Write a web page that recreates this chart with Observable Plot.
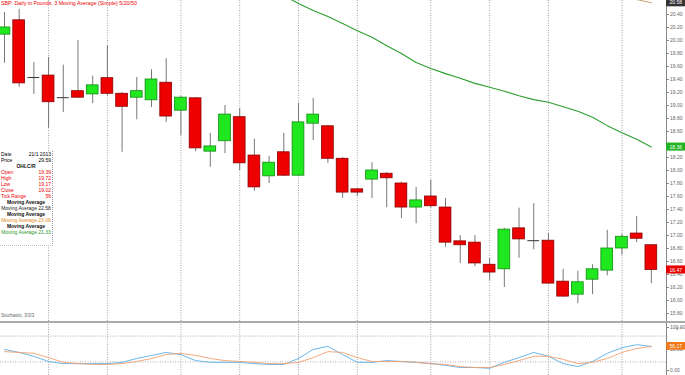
<!DOCTYPE html>
<html><head><meta charset="utf-8">
<script src="https://cdn.jsdelivr.net/npm/d3@7"></script>
<script src="https://cdn.jsdelivr.net/npm/@observablehq/plot@0.6"></script>
<style>
body{margin:0;background:#fff;font-family:"Liberation Sans",Arial,sans-serif;}
#wrap{position:relative;width:685px;height:375px;overflow:hidden;background:#fff;}
#main svg,#stoch svg{display:block;}
#stoch{border-top:2px solid #aaa;}
#title{position:absolute;left:1px;top:0px;font-size:5.3px;line-height:6px;color:#e00;white-space:nowrap;}
#cap{position:absolute;left:1px;top:313px;font-size:4.5px;color:#666;white-space:nowrap;}
#info{position:absolute;left:0;top:151px;width:52px;height:94px;background:rgba(255,255,255,0.92);border-right:1px dotted #999;border-bottom:1px dotted #bbb;font-size:5px;line-height:6px;}
#info .row{display:flex;justify-content:space-between;padding:0 1px;}
#info .hd{text-align:center;font-weight:bold;color:#111;}
#info .c{text-align:center;}
.red{color:#e00;}
</style></head><body>
<div id="wrap">
  <div id="main"></div>
  <div id="stoch"></div>
  <div id="title">SBP: Daily in Pounds, 3 Moving Average (Simple) 5/20/50</div>
  <div id="cap">Stochastic, 3/3/3</div>
  <div id="info"></div>
</div>
<script>
// ---- data ----
const open  = [20.09,20.31,19.43,19.46,19.12,19.22,19.17,19.42,19.18,19.12,19.08,19.35,18.92,19.11,18.29,18.45,18.82,18.23,17.91,18.28,17.92,18.72,18.68,18.18,17.71,17.86,17.95,17.80,17.43,17.60,17.43,16.91,16.89,16.55,16.48,17.11,16.92,16.92,16.29,16.09,16.32,16.46,16.80,17.03,16.85];
const high  = [20.43,20.48,19.66,19.74,19.62,20.00,19.45,19.92,19.20,19.43,19.55,19.72,19.14,19.12,18.57,19.00,18.95,18.48,18.22,18.57,19.03,19.11,18.69,18.20,17.72,18.12,17.97,17.82,17.74,17.85,17.57,17.00,17.00,16.65,17.11,17.42,17.49,17.03,16.48,16.45,16.55,17.08,17.02,17.29,16.85];
const low   = [19.65,19.28,19.17,18.65,18.89,19.11,19.03,19.15,18.28,18.78,18.97,18.74,18.54,18.29,18.05,18.26,18.00,17.68,17.80,17.91,17.91,18.46,18.11,17.57,17.60,17.57,17.43,17.26,17.18,17.42,16.82,16.57,16.52,16.31,16.20,16.65,16.78,16.25,16.05,15.95,16.09,16.38,16.70,16.89,16.26];
const close = [20.20,19.34,19.43,19.05,19.12,19.12,19.31,19.18,18.98,19.22,19.40,18.83,19.12,18.34,18.37,18.86,18.11,17.74,18.12,17.92,18.74,18.86,18.18,17.66,17.66,18.00,17.88,17.43,17.54,17.45,16.89,16.85,16.57,16.43,17.09,16.94,16.92,16.26,16.06,16.28,16.48,16.80,16.98,16.95,16.47];
const greenMAStart = 19;
const greenMA = [20.69,20.57,20.46,20.37,20.26,20.15,20.05,19.92,19.80,19.66,19.57,19.49,19.42,19.34,19.28,19.22,19.15,19.09,19.05,18.98,18.91,18.82,18.69,18.58,18.48,18.36];
const orangeMAStart = 42;
const orangeMA = [20.71,20.63,20.58];
const stochK = [49,42,33,21,16,16,16,16,19,28,35,42,37,23,19,19,19,16,14,14,28,49,56,37,19,19,23,21,19,16,12,7,7,5,19,30,42,33,16,9,21,40,53,60,56];
const stochD = [44,42,40,30,19,16,14,14,16,21,28,37,40,35,28,23,21,19,16,16,19,30,44,42,30,21,21,21,19,16,14,9,7,7,14,23,33,33,26,16,19,28,42,51,56.17];
const weekStarts = [3,7,12,16,20,24,29,33,37,42];
const priceTicks = [15.8,16.0,16.2,16.4,16.6,16.8,17.0,17.2,17.4,17.6,17.8,18.0,18.2,18.6,18.8,19.0,19.2,19.4,19.6,19.8,20.0,20.2,20.4];
const stochTicks = [0,50,100];
const stochLevels = [20,80];
const infoRows = [["Date","21/1 2013"],["Price","29.59"]];
const ohlcRows = [["Open","19.39"],["High","19.72"],["Low","19.17"],["Close","19.02"],["Tick Range","56"]];
const maLegend = [["Moving Average 22.58","#222"],["Moving Average 23.09","#e08a20"],["Moving Average 21.33","#2a9a2a"]];

// ---- build ----
const candles = open.map((o,i)=>({i,o,h:high[i],l:low[i],c:close[i]}));
const bodies = candles.filter(d=>Math.abs(d.o-d.c)>=0.005);
const dojis = candles.filter(d=>Math.abs(d.o-d.c)<0.005);
const gMA = greenMA.map((v,k)=>({i:greenMAStart+k,v}));
const oMA = orangeMA.map((v,k)=>({i:orangeMAStart+k,v}));
const kLine = stochK.map((v,i)=>({i,v}));
const dLine = stochD.map((v,i)=>({i,v}));
const xDom = [-0.27, 45.03];
const last = close.length-1;
const priceLabels = [
  {v: orangeMA[orangeMA.length-1], fill:"#333", text: orangeMA[orangeMA.length-1].toFixed(2)},
  {v: greenMA[greenMA.length-1], fill:"#22b422", text: greenMA[greenMA.length-1].toFixed(2)},
  {v: close[last], fill:"#e80000", text: close[last].toFixed(2)}
];
const halfBox = 0.062;

const main = Plot.plot({
  width:685, height:321, marginLeft:0, marginRight:19, marginTop:0, marginBottom:0,
  style:{background:"#fff", fontFamily:"Liberation Sans, Arial, sans-serif", overflow:"visible"},
  x:{domain:xDom, axis:null},
  y:{domain:[15.677,20.615], axis:null},
  marks:[
    Plot.ruleX(weekStarts,{stroke:"#8a8a8a", strokeDasharray:"1,1.5", strokeWidth:0.8}),
    Plot.ruleX(candles,{x:"i", y1:"l", y2:"h", stroke:"#777", strokeWidth:1}),
    Plot.rect(bodies,{x1:d=>d.i-0.4, x2:d=>d.i+0.4, y1:"o", y2:"c",
      fill:d=>d.c>d.o?"#1fe81f":"#ee0000", stroke:d=>d.c>d.o?"#128a12":"#8a0000", strokeWidth:0.8}),
    Plot.ruleY(dojis,{y:"o", x1:d=>d.i-0.4, x2:d=>d.i+0.4, stroke:"#333", strokeWidth:1}),
    Plot.line(gMA,{x:"i", y:"v", stroke:"#2e9e2e", strokeWidth:1.1, clip:true}),
    Plot.line(oMA,{x:"i", y:"v", stroke:"#c8a070", strokeWidth:1, clip:true}),
    Plot.ruleX([xDom[1]],{stroke:"#888"}),
    Plot.axisY(priceTicks,{anchor:"right", tickSize:2, tickPadding:1.5, fontSize:5, stroke:"#888", fill:"#666", tickFormat:d=>d.toFixed(2)}),
    Plot.rect(priceLabels,{x1:xDom[1], x2:xDom[1]+1.4, y1:d=>d.v-halfBox, y2:d=>d.v+halfBox, fill:"fill"}),
    Plot.text(priceLabels,{x:xDom[1], y:"v", text:"text", dx:3, textAnchor:"start", fill:"#fff", fontSize:5})
  ]
});
document.getElementById("main").append(main);

const stochLabel = [{v: stochD[last], text: stochD[last].toFixed(2)}];
const stoch = Plot.plot({
  width:685, height:52, marginLeft:0, marginRight:19, marginTop:4, marginBottom:5,
  style:{background:"#fff", fontFamily:"Liberation Sans, Arial, sans-serif", overflow:"visible"},
  x:{domain:xDom, axis:null},
  y:{domain:[0,100], axis:null},
  marks:[
    Plot.ruleX(weekStarts,{y1:-12, y2:110, stroke:"#8a8a8a", strokeDasharray:"1,1.5", strokeWidth:0.8}),
    Plot.ruleY(stochLevels,{stroke:"#999", strokeDasharray:"1,1.5", strokeWidth:0.8}),
    Plot.line(kLine,{x:"i", y:"v", stroke:"#5aaee6", strokeWidth:0.9}),
    Plot.line(dLine,{x:"i", y:"v", stroke:"#f0a070", strokeWidth:0.9}),
    Plot.ruleX([xDom[1]],{y1:-12, y2:110, stroke:"#888"}),
    Plot.axisY(stochTicks,{anchor:"right", tickSize:2, tickPadding:1.5, fontSize:5, stroke:"#888", fill:"#666", tickFormat:d=>d.toFixed(2)}),
    Plot.rect(stochLabel,{x1:xDom[1], x2:xDom[1]+1.4, y1:d=>d.v-9, y2:d=>d.v+9, fill:"#f07818"}),
    Plot.text(stochLabel,{x:xDom[1], y:"v", text:"text", dx:3, textAnchor:"start", fill:"#fff", fontSize:5})
  ]
});
document.getElementById("stoch").append(stoch);

// info box
const info = document.getElementById("info");
let html = "";
infoRows.forEach(r=>{ html += `<div class="row"><span>${r[0]}</span><span>${r[1]}</span></div>`; });
html += `<div class="hd">OHLC/R</div>`;
ohlcRows.forEach(r=>{ html += `<div class="row red"><span>${r[0]}</span><span>${r[1]}</span></div>`; });
maLegend.forEach(m=>{ html += `<div class="hd">Moving Average</div><div class="c" style="color:${m[1]}">${m[0]}</div>`; });
info.innerHTML = html;
</script>
</body></html>
